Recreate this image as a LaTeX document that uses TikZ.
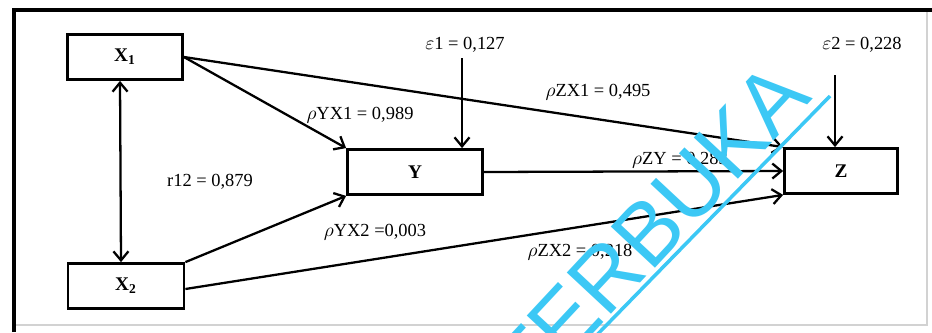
\documentclass[tikz,border=0pt]{standalone}
\usepackage{fontspec}
\setmainfont{Liberation Serif}
\newfontfamily\markfont{Liberation Sans}
\usetikzlibrary{arrows.meta}

\definecolor{markblue}{RGB}{60,200,245}

\tikzset{
  varbox/.style={draw, line width=1.6pt, minimum height=0.9cm, font=\bfseries\fontsize{11}{12}\selectfont},
  path/.style={line width=1.3pt, -{Straight Barb[length=1.8mm,width=3mm]}},
  coef/.style={font=\fontsize{10.5}{12}\selectfont, inner sep=1pt}
}

\begin{document}
\begin{tikzpicture}[x=0.02cm, y=-0.02cm]
  \useasboundingbox (0,0) rectangle (932,332);

  % Frame
  \draw[gray!35, line width=0.8pt] (14,325) -- (927,325) -- (927,10);
  \draw[line width=1.8pt] (14,332) -- (14,10) -- (932,10);

  % Variables
  \node[varbox, minimum width=2.3cm] (X1) at (125,57) {X\textsubscript{1}};
  \node[varbox, minimum width=2.32cm] (X2) at (126,286) {X\textsubscript{2}};
  \node[varbox, minimum width=2.7cm] (Y) at (415,172) {Y};
  \node[varbox, minimum width=2.26cm] (Z) at (841,171) {Z};

  % Residuals
  \node[coef] (e1) at (465,45) {$\varepsilon$1 = 0,127};
  \node[coef] (e2) at (862,45) {$\varepsilon$2 = 0,228};
  \coordinate (e1tail) at (462,58);
  \coordinate (e2tail) at (835,75);

  % Paths
  \draw[path, {Straight Barb[length=1.8mm,width=3mm]}-{Straight Barb[length=1.8mm,width=3mm]}]
    ([xshift=-0.1cm]X1.south) -- ([xshift=-0.1cm]X2.north);
  \draw[path] (X1.east) -- (Y.north west);
  \draw[path] (X1.east) -- (Z.north west);
  \draw[path] (e1tail) -- (e1tail |- Y.north);
  \draw[path] (e2tail) -- (e2tail |- Z.north);
  \draw[path] (Y.east) -- (Z.west);
  \draw[path] (X2.north east) -- (Y.south west);
  \draw[path] ([yshift=-0.06cm]X2.east) -- (Z.south west);

  % Coefficients
  \node[coef] (r12) at (210,182) {r12 = 0,879};
  \node[coef] (pYX1) at (360,115) {$\rho$YX1 = 0,989};
  \node[coef] (pZX1) at (598,92) {$\rho$ZX1 = 0,495};
  \node[coef] (pZY) at (680,160) {$\rho$ZY = 0,283};
  \node[coef] (pYX2) at (375,232) {$\rho$YX2 =0,003};
  \node[coef] (pZX2) at (580,252) {$\rho$ZX2 = 0,218};

  % Watermark
  \node[text=markblue, font=\markfont\fontsize{50}{54}\selectfont, rotate=47, inner sep=0pt]
    (mark) at (650,230) {TERBUKA};
  \draw[markblue, line width=2pt] (590,342) -- (830,96);
\end{tikzpicture}
\end{document}
